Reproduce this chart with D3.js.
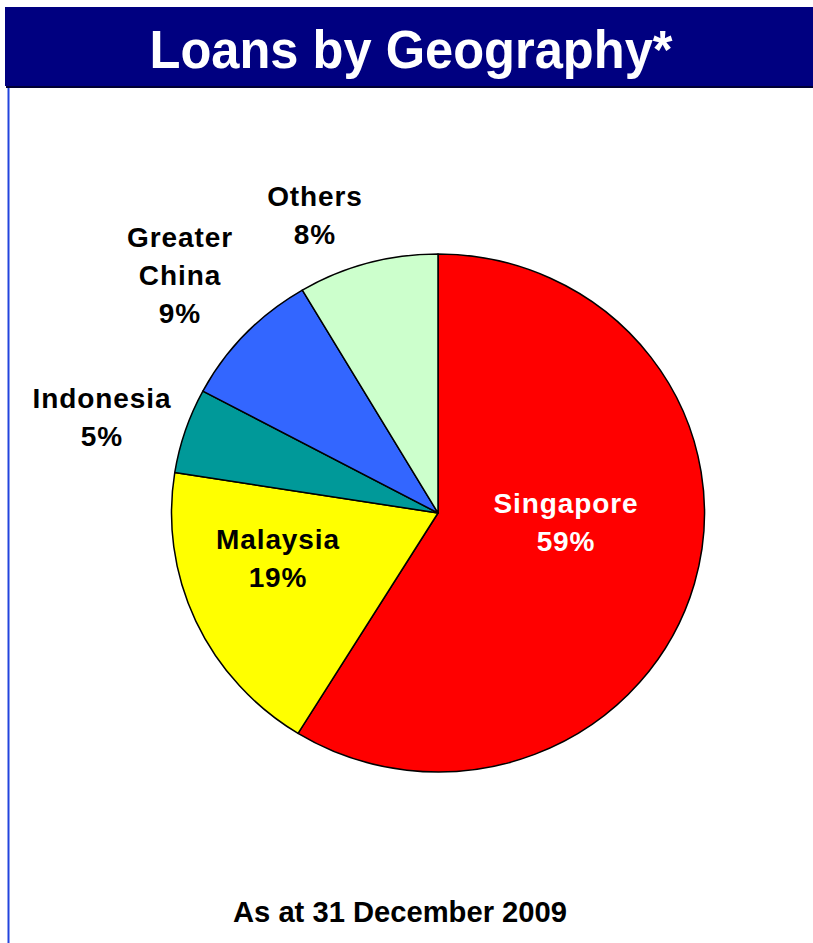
<!DOCTYPE html>
<html>
<head>
<meta charset="utf-8">
<script src="https://cdn.jsdelivr.net/npm/d3@7"></script>
<style>
  body { margin: 0; background: #fff; }
  text { font-family: "Liberation Sans", Arial, sans-serif; font-weight: bold; }
</style>
</head>
<body>
<div id="pie"></div>
<script>
// data
const regions = ['Singapore', 'Malaysia', 'Indonesia', 'Greater China', 'Others'];
const shares = [58.8, 18.7, 5.3, 8.7, 8.5];
const shareLabels = ['59%', '19%', '5%', '9%', '8%'];
const sliceColors = ['#ff0000', '#ffff00', '#009999', '#3366ff', '#ccffcc'];

// label placement (centre x, first baseline y) and line breaks
const labelLines = {
    'Singapore': ['Singapore'],
    'Malaysia': ['Malaysia'],
    'Indonesia': ['Indonesia'],
    'Greater China': ['Greater', 'China'],
    'Others': ['Others'],
};
const labelAt = {
    'Singapore': [566, 513],
    'Malaysia': [278, 549],
    'Indonesia': [102, 408],
    'Greater China': [180, 247],
    'Others': [315, 206],
};

const width = 813;
const height = 943;
const cx = 438;
const cy = 513;
const rx = 266.5;
const ry = 259;

const svg = d3
    .select('#pie')
    .append('svg')
    .attr('width', width)
    .attr('height', height);

// title bar
svg.append('rect')
    .attr('x', 6)
    .attr('y', 8)
    .attr('width', width - 6)
    .attr('height', 80)
    .attr('fill', '#000033');
svg.append('rect')
    .attr('x', 5)
    .attr('y', 7)
    .attr('width', width - 5)
    .attr('height', 79)
    .attr('fill', '#000080');
svg.append('text')
    .attr('x', 411)
    .attr('y', 68)
    .attr('text-anchor', 'middle')
    .attr('fill', '#ffffff')
    .style('font-size', '53px')
    .attr('textLength', 523)
    .attr('lengthAdjust', 'spacingAndGlyphs')
    .text('Loans by Geography*');

// left border line
svg.append('line')
    .attr('x1', 8.5)
    .attr('x2', 8.5)
    .attr('y1', 88)
    .attr('y2', height)
    .attr('stroke', '#2244dd')
    .attr('stroke-width', 2);

const data = regions.map((r, i) => ({
    region: r,
    share: shares[i],
    label: shareLabels[i],
    color: sliceColors[i],
}));

const pie = d3.pie()
    .sort(null)
    .value((d) => d.share);

const arc = d3.arc()
    .innerRadius(0)
    .outerRadius(rx);

const pieG = svg.append('g')
    .attr('transform', `translate(${cx},${cy}) scale(1,${ry / rx})`);

pieG.selectAll('path')
    .data(pie(data))
    .enter()
    .append('path')
    .attr('d', arc)
    .attr('fill', (d) => d.data.color)
    .attr('stroke', '#000000')
    .attr('stroke-width', 1.5)
    .attr('vector-effect', 'non-scaling-stroke')
    .attr('stroke-linejoin', 'round');

// labels
data.forEach((d) => {
    const lines = labelLines[d.region].concat([d.label]);
    const [lx, ly] = labelAt[d.region];
    const t = svg.append('text')
        .attr('text-anchor', 'middle')
        .attr('fill', d.region === 'Singapore' ? '#ffffff' : '#000000')
        .style('font-size', '28px')
        .style('letter-spacing', '0.9px');
    lines.forEach((line, i) => {
        t.append('tspan')
            .attr('x', lx)
            .attr('y', ly + i * 38)
            .text(line);
    });
});

// footnote
svg.append('text')
    .attr('x', 400)
    .attr('y', 922)
    .attr('text-anchor', 'middle')
    .attr('fill', '#000000')
    .style('font-size', '29px')
    .attr('textLength', 334)
    .attr('lengthAdjust', 'spacingAndGlyphs')
    .text('As at 31 December 2009');
</script>
</body>
</html>
